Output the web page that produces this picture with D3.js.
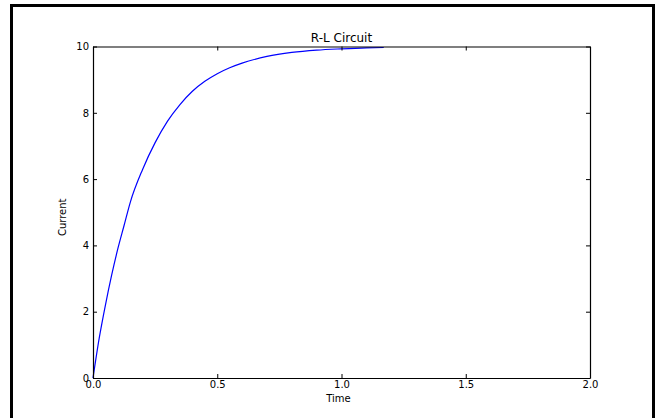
<!DOCTYPE html>
<html><head><meta charset="utf-8">
<script src="https://cdn.jsdelivr.net/npm/d3@7"></script>
<style>body{margin:0;background:#fff}svg{display:block}text{font-family:"DejaVu Sans",sans-serif;fill:#000}</style>
</head><body>
<script>
const timeValues = [0, 0.025, 0.05, 0.075, 0.1, 0.125, 0.15, 0.2, 0.25, 0.3, 0.35, 0.4, 0.45, 0.5, 0.55, 0.6, 0.7, 0.8, 0.9, 1.0, 1.1, 1.17];
const currentValues = [0, 1.2, 2.2, 3.1, 3.9, 4.6, 5.3, 6.3, 7.1, 7.75, 8.25, 8.65, 8.95, 9.18, 9.36, 9.5, 9.7, 9.82, 9.89, 9.93, 9.96, 9.97];
const xTicks = [0, 0.5, 1.0, 1.5, 2.0];
const yTicks = [0, 2, 4, 6, 8, 10];
const chartTitle = "R-L Circuit", xLabel = "Time", yLabel = "Current";

(function(){
const W = 655, H = 418;
const svg = d3.select("body").append("svg").attr("width", W).attr("height", H);
svg.append("path").attr("d", "M11.5,420 V5.5 H653.5 V420").attr("fill", "none").attr("stroke", "#000").attr("stroke-width", 3);

const L = 93, R = 590, T = 46.5, B = 378;
const x = d3.scaleLinear().domain([0, 2]).range([L, R]);
const y = d3.scaleLinear().domain([0, 10]).range([B, T]);

const g = svg.append("g");
const tk = 4;
const axB = d3.axisBottom(x).tickValues(xTicks).tickFormat(d3.format(".1f")).tickSizeInner(-tk).tickSizeOuter(0).tickPadding(3);
const axT = d3.axisTop(x).tickValues(xTicks).tickFormat("").tickSizeInner(-tk).tickSizeOuter(0);
const axL = d3.axisLeft(y).tickValues(yTicks).tickFormat(d3.format("d")).tickSizeInner(-tk).tickSizeOuter(0).tickPadding(4);
const axR = d3.axisRight(y).tickValues(yTicks).tickFormat("").tickSizeInner(-tk).tickSizeOuter(0);

const line = d3.line().curve(d3.curveMonotoneX).x((d,i)=>x(timeValues[i])).y(d=>y(d));
g.append("path").datum(currentValues).attr("d", line).attr("fill","none").attr("stroke","#0000ff").attr("stroke-width",1.2);

function styleAx(sel){ sel.selectAll("path").attr("stroke","#000").attr("stroke-width",1.2); sel.selectAll("line").attr("stroke","#000"); sel.selectAll("text").style("font-size","10px"); sel.attr("font-family", null); }
g.append("g").attr("transform",`translate(0,${B})`).call(axB).call(styleAx);
g.append("g").attr("transform",`translate(0,${T})`).call(axT).call(styleAx);
g.append("g").attr("transform",`translate(${L},0)`).call(axL).call(styleAx);
g.append("g").attr("transform",`translate(${R},0)`).call(axR).call(styleAx);

svg.append("text").attr("x",(L+R)/2).attr("y",42).attr("text-anchor","middle").style("font-size","12px").text(chartTitle);
svg.append("text").attr("x",(L+R)/2 - 3).attr("y",402).attr("text-anchor","middle").style("font-size","10px").text(xLabel);
svg.append("text").attr("transform",`translate(66,${(T+B)/2+5}) rotate(-90)`).attr("text-anchor","middle").style("font-size","10px").text(yLabel);
})();
</script>
</body></html>
